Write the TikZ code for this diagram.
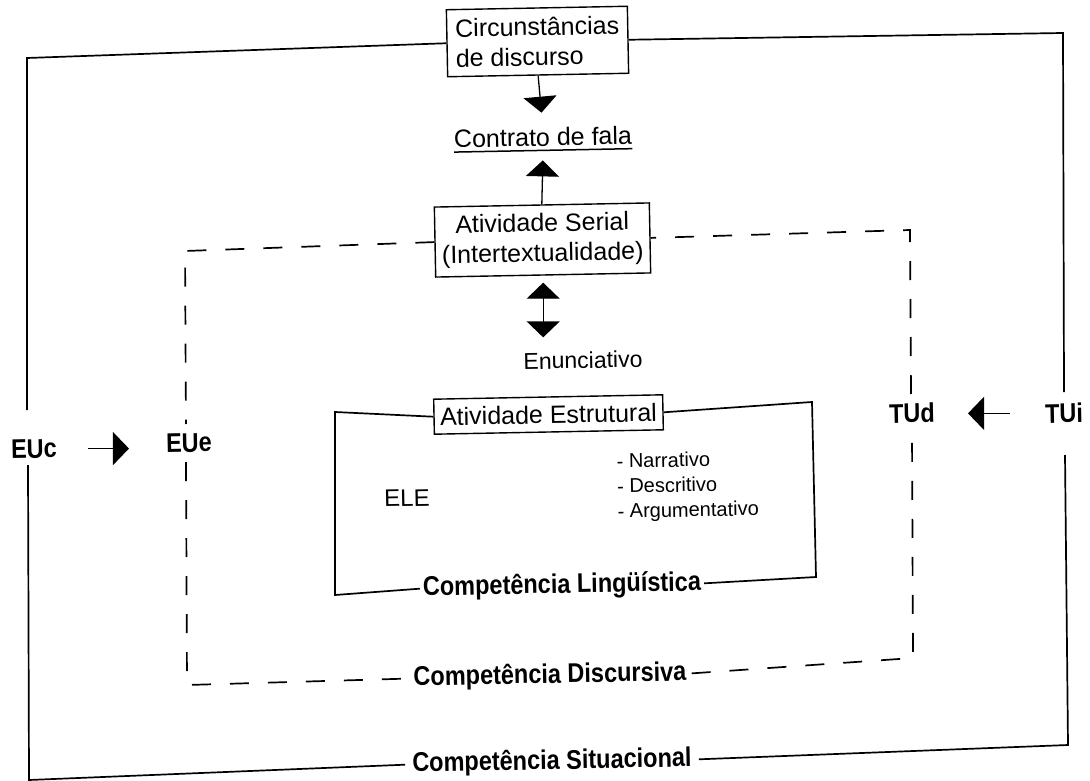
\documentclass[tikz,border=0pt]{standalone}
\usepackage{fontspec}
\setmainfont{Liberation Sans}
\newfontfamily\condb[FakeStretch=0.87]{Liberation Sans}
\usetikzlibrary{arrows.meta}
\begin{document}
\begin{tikzpicture}[x=1pt,y=-1pt,
  frame/.style={line width=1.7pt},
  dframe/.style={line width=1.7pt, dash pattern=on 19pt off 19pt},
  box/.style={draw, line width=1.4pt, inner sep=2pt, rotate=1.1, align=center,
    font=\fontsize{25}{30}\selectfont},
  txt/.style={inner sep=0pt, rotate=1.1, font=\fontsize{25}{30}\selectfont},
  lab/.style={inner sep=0pt, rotate=1.1, font=\condb\bfseries\fontsize{27}{30}\selectfont},
  bigarrow/.style={line width=1.3pt, -{Triangle[length=16pt,width=33pt]}},
]
\useasboundingbox (0,0) rectangle (1090,781);

% text nodes
\node[box, minimum width=181pt, minimum height=67pt, align=left] (circ) at (537.5,41.5) {Circunst\^ancias\\de discurso};
\node[txt] (contrato) at (543,137) {Contrato de fala};
\node[box, minimum width=215pt, minimum height=70pt] (serial) at (542.5,240) {Atividade Serial\\(Intertextualidade)};
\node[txt, font=\fontsize{23}{28}\selectfont] (enun) at (583,360) {Enunciativo};
\node[box, minimum width=229pt, minimum height=35pt] (estr) at (548.5,414.5) {Atividade Estrutural};
\node[txt, font=\fontsize{24}{28}\selectfont] (ele) at (407,498) {ELE};
\node[txt, anchor=west, align=left, font=\fontsize{20}{25}\selectfont] (tipos) at (617,488) {- Narrativo\\- Descritivo\\- Argumentativo};

\node[lab] (euc) at (34,449) {EUc};
\node[lab] (eue) at (189,443) {EUe};
\node[lab] (tud) at (912,413) {TUd};
\node[lab] (tui) at (1064,413) {TUi};

\node[lab] (ling) at (562,586) {Compet\^encia Ling\"u\'istica};
\node[lab] (disc) at (550,676) {Compet\^encia Discursiva};
\node[lab] (sit) at (552,762) {Compet\^encia Situacional};

% underline of Contrato de fala
\draw[line width=1.5pt] ([yshift=-4pt]contrato.south west) -- ([yshift=-4pt]contrato.south east);

% frame corners
\coordinate (oTL) at (27,58);
\coordinate (oTR) at (1063,33);
\coordinate (oBR) at (1068,745);
\coordinate (oBL) at (29,780);
\coordinate (oL1) at (27,410);
\coordinate (oL2) at (28,465);
\coordinate (oR1) at (1064,392);
\coordinate (oR2) at (1065,455);

\coordinate (dTL) at (185,251);
\coordinate (dTR) at (910,230);
\coordinate (dBR) at (913,658);
\coordinate (dBL) at (187,685);
\coordinate (dL1) at (186,424);
\coordinate (dL2) at (186,462);
\coordinate (dR1) at (911,394);
\coordinate (dR2) at (912,432);

\coordinate (iTL) at (335,412);
\coordinate (iTR) at (812,402);
\coordinate (iBR) at (816,577);
\coordinate (iBL) at (335,595);

% outer frame (Competencia Situacional)
\draw[frame] (circ.west) -- (oTL) -- (oL1);
\draw[frame] (oL2) -- (oBL) -- ([xshift=-7pt]sit.west);
\draw[frame] ([xshift=7pt]sit.east) -- (oBR) -- (oR2);
\draw[frame] (oR1) -- (oTR) -- (circ.east);

% dashed frame (Competencia Discursiva)
\draw[dframe] (serial.west) -- (dTL) -- (dL1);
\draw[dframe] (dL2) -- (dBL) -- ([xshift=-7pt]disc.west);
\draw[dframe] ([xshift=5pt]disc.east) -- (dBR) -- (dR2);
\draw[dframe] (dR1) -- (dTR) -- (serial.east);

% inner frame (Competencia Linguistica)
\draw[frame] (estr.west) -- (iTL) -- (iBL) -- ([xshift=-3pt]ling.west);
\draw[frame] ([xshift=3pt]ling.east) -- (iBR) -- (iTR) -- (estr.east);

% arrows
\draw[bigarrow, shorten >=15pt] (circ.south) -- (contrato.north);
\draw[bigarrow, shorten >=14pt] (serial.north) -- (contrato.south);
\draw[line width=1.3pt, {Triangle[length=16pt,width=33pt]}-{Triangle[length=16pt,width=33pt]},
  shorten <=7pt, shorten >=14pt] (serial.south) -- (serial.south |- enun.north);
\draw[bigarrow, shorten <=31pt, shorten >=37pt] (euc.east) -- (eue.west |- euc.east);
\draw[bigarrow, shorten <=35pt, shorten >=33pt] (tui.west) -- (tud.east |- tui.west);
\end{tikzpicture}
\end{document}
